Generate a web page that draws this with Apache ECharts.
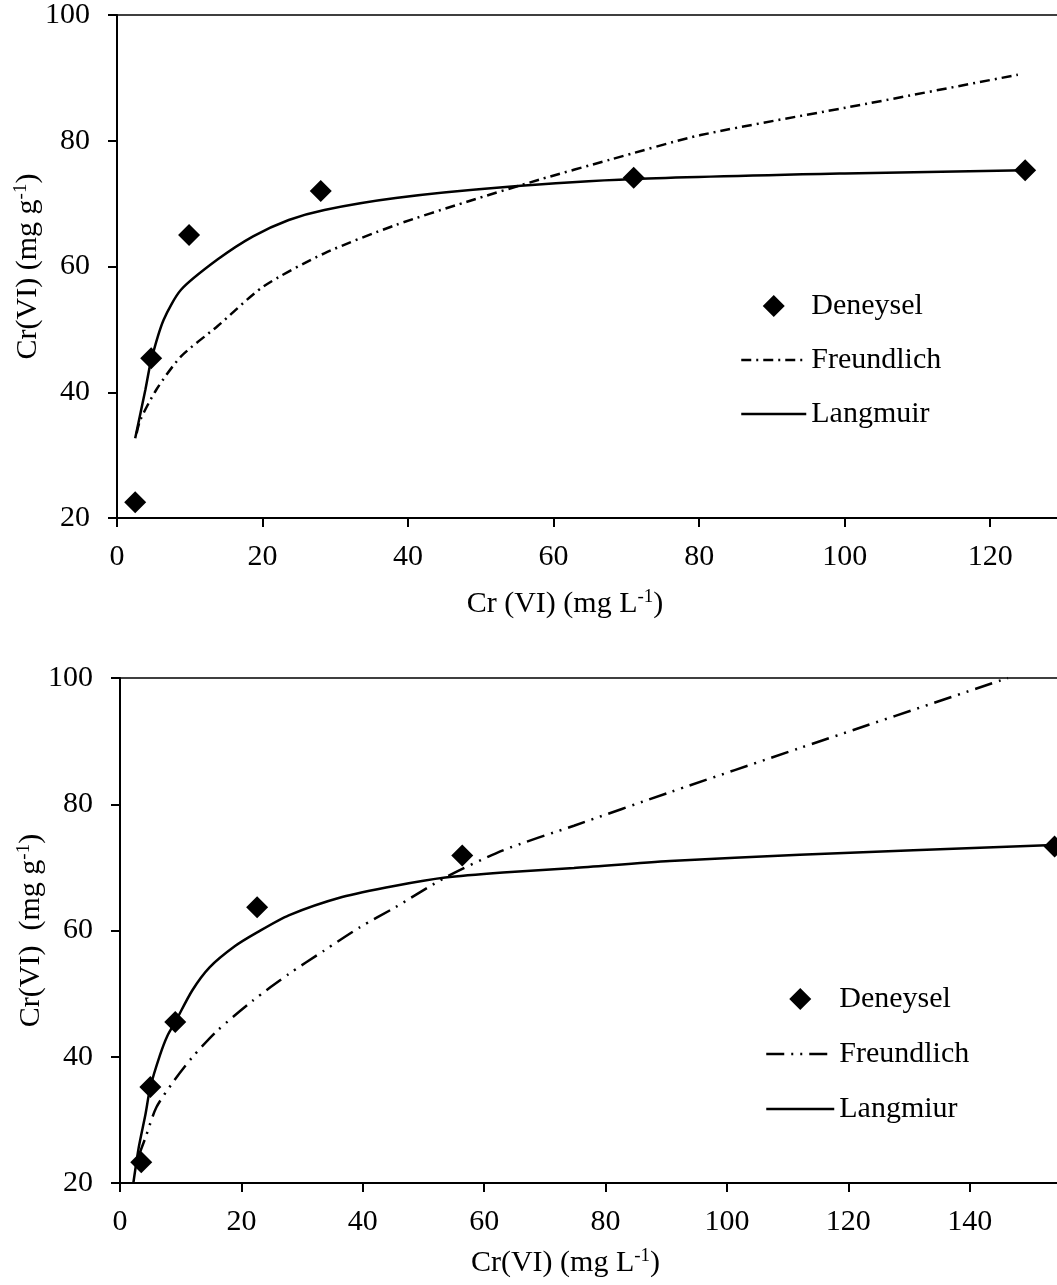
<!DOCTYPE html>
<html>
<head>
<meta charset="utf-8">
<title>Cr(VI) isotherms</title>
<script src="https://cdn.jsdelivr.net/npm/echarts@6/dist/echarts.min.js"></script>
<style>
  html, body { margin: 0; padding: 0; background: #fff; }
  #chart { width: 1057px; height: 1285px; }
</style>
</head>
<body>
<div id="chart"></div>
<script>
// top panel - measured points and the two fitted curves
const obsX1 = [2.5, 4.7, 9.9, 28.0, 71.0, 124.8]
const obsY1 = [22.5, 45.4, 65.0, 72.0, 74.1, 75.3]
const freX1 = [2.7, 3.2, 5.4, 8.8, 13.8, 20.1, 28.5, 38.3, 48.1, 58.0, 67.8, 80.2, 103.1, 123.8]
const freY1 = [33.5, 35.6, 40.4, 45.7, 50.5, 56.8, 62.1, 66.6, 70.3, 73.8, 77.0, 80.9, 85.9, 90.5]
const lanX1 = [2.5, 3.9, 4.7, 6.4, 8.8, 13.8, 18.7, 23.6, 28.5, 38.3, 53.0, 71.0, 100.0, 124.8]
const lanY1 = [32.7, 40.4, 45.1, 51.5, 56.3, 61.1, 64.8, 67.4, 69.0, 70.9, 72.6, 73.9, 74.8, 75.3]

// bottom panel
const obsX2 = [3.5, 5.0, 9.1, 22.6, 56.4, 154.0]
const obsY2 = [23.3, 35.2, 45.5, 63.7, 71.9, 73.3]
const freX2 = [3.0, 4.2, 6.0, 8.9, 11.9, 16.0, 21.9, 27.8, 33.6, 39.5, 45.4, 53.6, 63.1, 74.8, 90.6, 112.0, 146.3]
const freY2 = [24.1, 27.2, 32.0, 36.2, 39.9, 44.1, 48.9, 53.1, 56.8, 60.5, 63.7, 68.4, 72.7, 76.6, 81.9, 88.9, 100.0]
const lanX2 = [2.2, 3.1, 4.2, 5.0, 6.6, 7.8, 9.1, 11.9, 14.8, 18.9, 22.6, 27.8, 36.6, 45.4, 53.6, 63.1, 74.8, 90.6, 112.0, 152.7]
const lanY2 = [20.0, 25.7, 30.9, 35.2, 40.3, 43.3, 45.5, 50.5, 54.2, 57.5, 59.7, 62.4, 65.3, 67.1, 68.4, 69.2, 69.9, 71.0, 72.0, 73.5]

const font = 'Liberation Serif, Times New Roman, serif'
const dash1 = [10, 5, 2, 5]
const dash2 = [18, 7, 2, 7, 2, 7]
const diamondIcon = 'path://M10,0 L20,10 L10,20 L0,10 Z'

const zip = (xs, ys) => xs.map((x, i) => [x, ys[i]])

const rich = {
  a: { fontFamily: font, fontSize: 30, color: '#000' },
  b: { fontFamily: font, fontSize: 19, color: '#000', padding: [0, 0, 14, 0] }
}

function xAxisCfg(gridIndex, max, name, shift, gap) {
  return {
    type: 'value',
    gridIndex: gridIndex,
    min: 0,
    max: max,
    interval: 20,
    name: name,
    nameLocation: 'middle',
    nameGap: gap,
    nameMoveOverlap: false,
    nameTextStyle: { rich: rich, padding: [0, shift, 0, 0] },
    axisLine: { show: true, lineStyle: { color: '#000', width: 2 } },
    axisTick: { show: true, length: 9, lineStyle: { color: '#000', width: 2 } },
    axisLabel: { fontFamily: font, fontSize: 30, color: '#000', margin: 24, showMaxLabel: false },
    splitLine: { show: false }
  }
}

function yAxisCfg(gridIndex, name) {
  return {
    type: 'value',
    gridIndex: gridIndex,
    min: 20,
    max: 100,
    interval: 20,
    name: name,
    nameLocation: 'middle',
    nameRotate: 90,
    nameGap: 72,
    nameMoveOverlap: false,
    nameTextStyle: { rich: rich },
    axisLine: { show: true, lineStyle: { color: '#000', width: 2 } },
    axisTick: { show: true, length: 9, lineStyle: { color: '#000', width: 2 } },
    axisLabel: { fontFamily: font, fontSize: 30, color: '#000', margin: 27 },
    splitLine: { show: false }
  }
}

function curve(name, xi, data, dash) {
  return {
    name: name,
    type: 'line',
    xAxisIndex: xi,
    yAxisIndex: xi,
    data: data,
    symbol: 'none',
    smooth: 0.25,
    itemStyle: { color: '#000' },
    lineStyle: { color: '#000', width: 2.5, type: dash || 'solid' },
    z: 2
  }
}

function points(xi, data) {
  return {
    name: 'Deneysel',
    type: 'scatter',
    xAxisIndex: xi,
    yAxisIndex: xi,
    data: data,
    symbol: 'diamond',
    symbolSize: 22,
    itemStyle: { color: '#000', opacity: 1 },
    z: 3
  }
}

function legendCfg(left, top, width, gap, names, dash) {
  return {
    left: left, top: top, orient: 'vertical',
    itemWidth: width, itemHeight: 22, itemGap: gap,
    selectedMode: false,
    symbolKeepAspect: true,
    textStyle: { fontFamily: font, fontSize: 30, color: '#000' },
    data: [
      { name: names[0], icon: diamondIcon, itemStyle: { color: '#000', opacity: 1 } },
      { name: names[1], lineStyle: { type: dash, width: 2.5 }, itemStyle: { opacity: 0 } },
      { name: names[2], lineStyle: { width: 2.5 }, itemStyle: { opacity: 0 } }
    ]
  }
}

const chart = echarts.init(document.getElementById('chart'))
chart.setOption({
  animation: false,
  backgroundColor: '#fff',
  grid: [
    { left: 117, top: 15, right: -6, height: 503, outerBoundsMode: 'none', show: true, borderColor: '#000', borderWidth: 1.5 },
    { left: 120, top: 678, right: -34, height: 505, outerBoundsMode: 'none', show: true, borderColor: '#000', borderWidth: 1.5 }
  ],
  xAxis: [
    xAxisCfg(0, 130, '{a|Cr (VI) (mg L}{b|-1}{a|)}', 50, 70),
    xAxisCfg(1, 160, '{a|Cr(VI) (mg L}{b|-1}{a|)}', 80, 64)
  ],
  yAxis: [
    yAxisCfg(0, '{a|Cr(VI) (mg g}{b|-1}{a|)}'),
    yAxisCfg(1, '{a|Cr(VI)  (mg g}{b|-1}{a|)}')
  ],
  legend: [
    legendCfg(735, 286, 65, 24, ['Deneysel', 'Freundlich', 'Langmuir'], dash1),
    legendCfg(760, 979, 68, 25, ['Deneysel', 'Freundlich', 'Langmiur'], dash2)
  ],
  series: [
    curve('Freundlich', 0, zip(freX1, freY1), dash1),
    curve('Langmuir', 0, zip(lanX1, lanY1)),
    points(0, zip(obsX1, obsY1)),
    curve('Freundlich', 1, zip(freX2, freY2), dash2),
    curve('Langmiur', 1, zip(lanX2, lanY2)),
    points(1, zip(obsX2, obsY2))
  ]
})
</script>
</body>
</html>
